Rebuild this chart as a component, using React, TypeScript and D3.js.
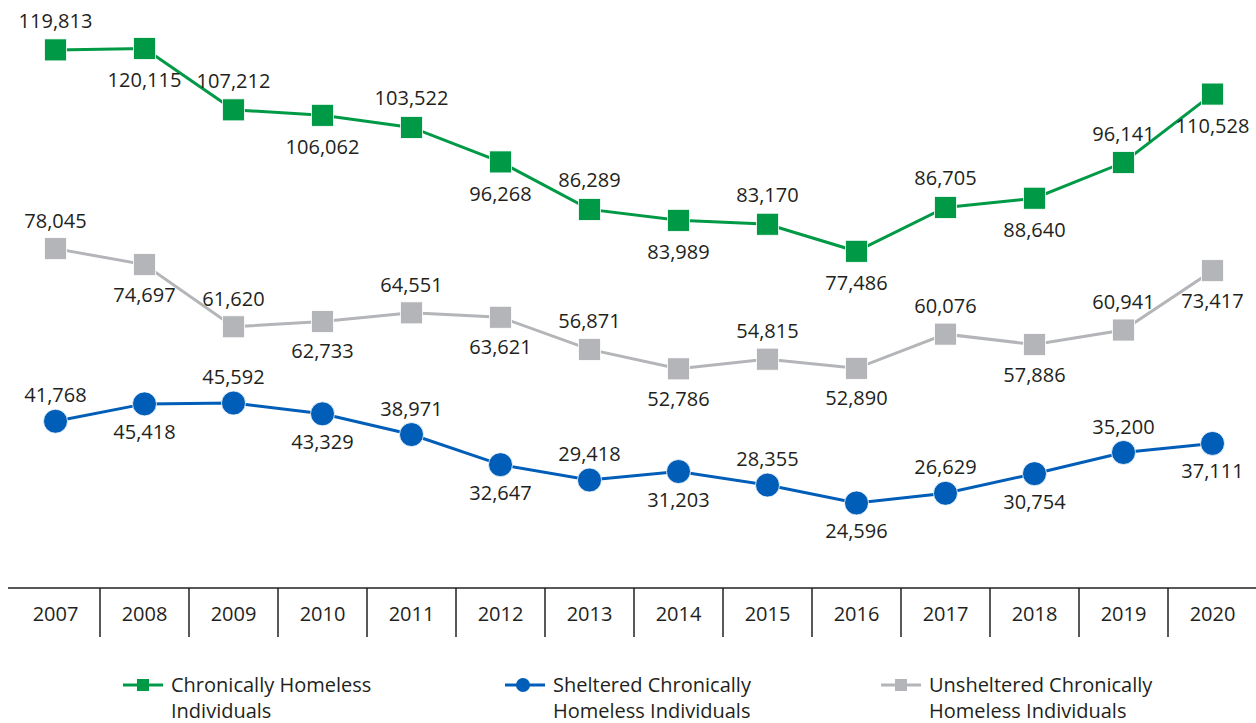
import React from 'react';
import * as d3 from 'd3';

const years = ['2007', '2008', '2009', '2010', '2011', '2012', '2013', '2014', '2015', '2016', '2017', '2018', '2019', '2020'];
const chronic = [119813, 120115, 107212, 106062, 103522, 96268, 86289, 83989, 83170, 77486, 86705, 88640, 96141, 110528];
const unsheltered = [78045, 74697, 61620, 62733, 64551, 63621, 56871, 52786, 54815, 52890, 60076, 57886, 60941, 73417];
const sheltered = [41768, 45418, 45592, 43329, 38971, 32647, 29418, 31203, 28355, 24596, 26629, 30754, 35200, 37111];

const W = 1256;
const H = 723;
const FONT = '"Open Sans", Lato, sans-serif';
const TEXT = '#231f20';
const GREEN = '#009a46';
const BLUE = '#005eb8';
const GRAY = '#b3b5b8';

const x = d3.scaleBand<string>().domain(years).range([11, 1257]);
const y = d3.scaleLinear().domain([0, 120000]).range([620, 49]);
const fmt = d3.format(',');

type Series = { key: string; values: number[]; color: string; shape: 'square' | 'circle'; up: number; down: number };

const series: Series[] = [
  { key: 'chronic', values: chronic, color: GREEN, shape: 'square', up: -22, down: 39 },
  { key: 'unsheltered', values: unsheltered, color: GRAY, shape: 'square', up: -21, down: 37 },
  { key: 'sheltered', values: sheltered, color: BLUE, shape: 'circle', up: -19, down: 35 },
];

const legend = [
  { color: GREEN, shape: 'square', x0: 123, lines: ['Chronically Homeless', 'Individuals'] },
  { color: BLUE, shape: 'circle', x0: 505, lines: ['Sheltered Chronically', 'Homeless Individuals'] },
  { color: GRAY, shape: 'square', x0: 881, lines: ['Unsheltered Chronically', 'Homeless Individuals'] },
];

const cx = (yr: string) => (x(yr) as number) + x.bandwidth() / 2;

export default function App() {
  const line = d3.line<number>().x((_, i) => cx(years[i])).y((d) => y(d));
  return (
    <svg width={W} height={H} style={{ position: 'absolute', left: 0, top: 0, background: '#fff' }} fontFamily={FONT}>
      {/* axis */}
      <line x1={8} x2={W} y1={588} y2={588} stroke={TEXT} strokeWidth={1.5} />
      {years.slice(1).map((yr) => (
        <line key={yr} x1={x(yr)} x2={x(yr)} y1={588} y2={637} stroke={TEXT} strokeWidth={1.5} />
      ))}
      {years.map((yr) => (
        <text key={yr} x={cx(yr)} y={621} textAnchor="middle" fontSize={20} fill={TEXT}>{yr}</text>
      ))}

      {series.map((s) => (
        <g key={s.key}>
          <path d={line(s.values) || ''} fill="none" stroke={s.color} strokeWidth={3} />
          {s.values.map((v, i) =>
            s.shape === 'square' ? (
              <rect key={i} x={cx(years[i]) - 11} y={y(v) - 11} width={22} height={22} fill={s.color} stroke="#fff" strokeWidth={0.8} />
            ) : (
              <circle key={i} cx={cx(years[i])} cy={y(v)} r={12} fill={s.color} stroke="#fff" strokeWidth={0.8} />
            )
          )}
          {s.values.map((v, i) => (
            <text key={'t' + i} x={cx(years[i])} y={y(v) + (i % 2 === 0 ? s.up : s.down)} textAnchor="middle" fontSize={20} fill={TEXT}>
              {fmt(v)}
            </text>
          ))}
        </g>
      ))}

      {/* legend */}
      {legend.map((l) => (
        <g key={l.lines[0]}>
          <line x1={l.x0} x2={l.x0 + 40} y1={685} y2={685} stroke={l.color} strokeWidth={3} />
          {l.shape === 'square' ? (
            <rect x={l.x0 + 14} y={679} width={12} height={12} fill={l.color} />
          ) : (
            <circle cx={l.x0 + 18} cy={685} r={7} fill={l.color} />
          )}
          {l.lines.map((t, j) => (
            <text key={t} x={l.x0 + 48} y={692 + j * 26} fontSize={20} fill={TEXT}>{t}</text>
          ))}
        </g>
      ))}
    </svg>
  );
}
